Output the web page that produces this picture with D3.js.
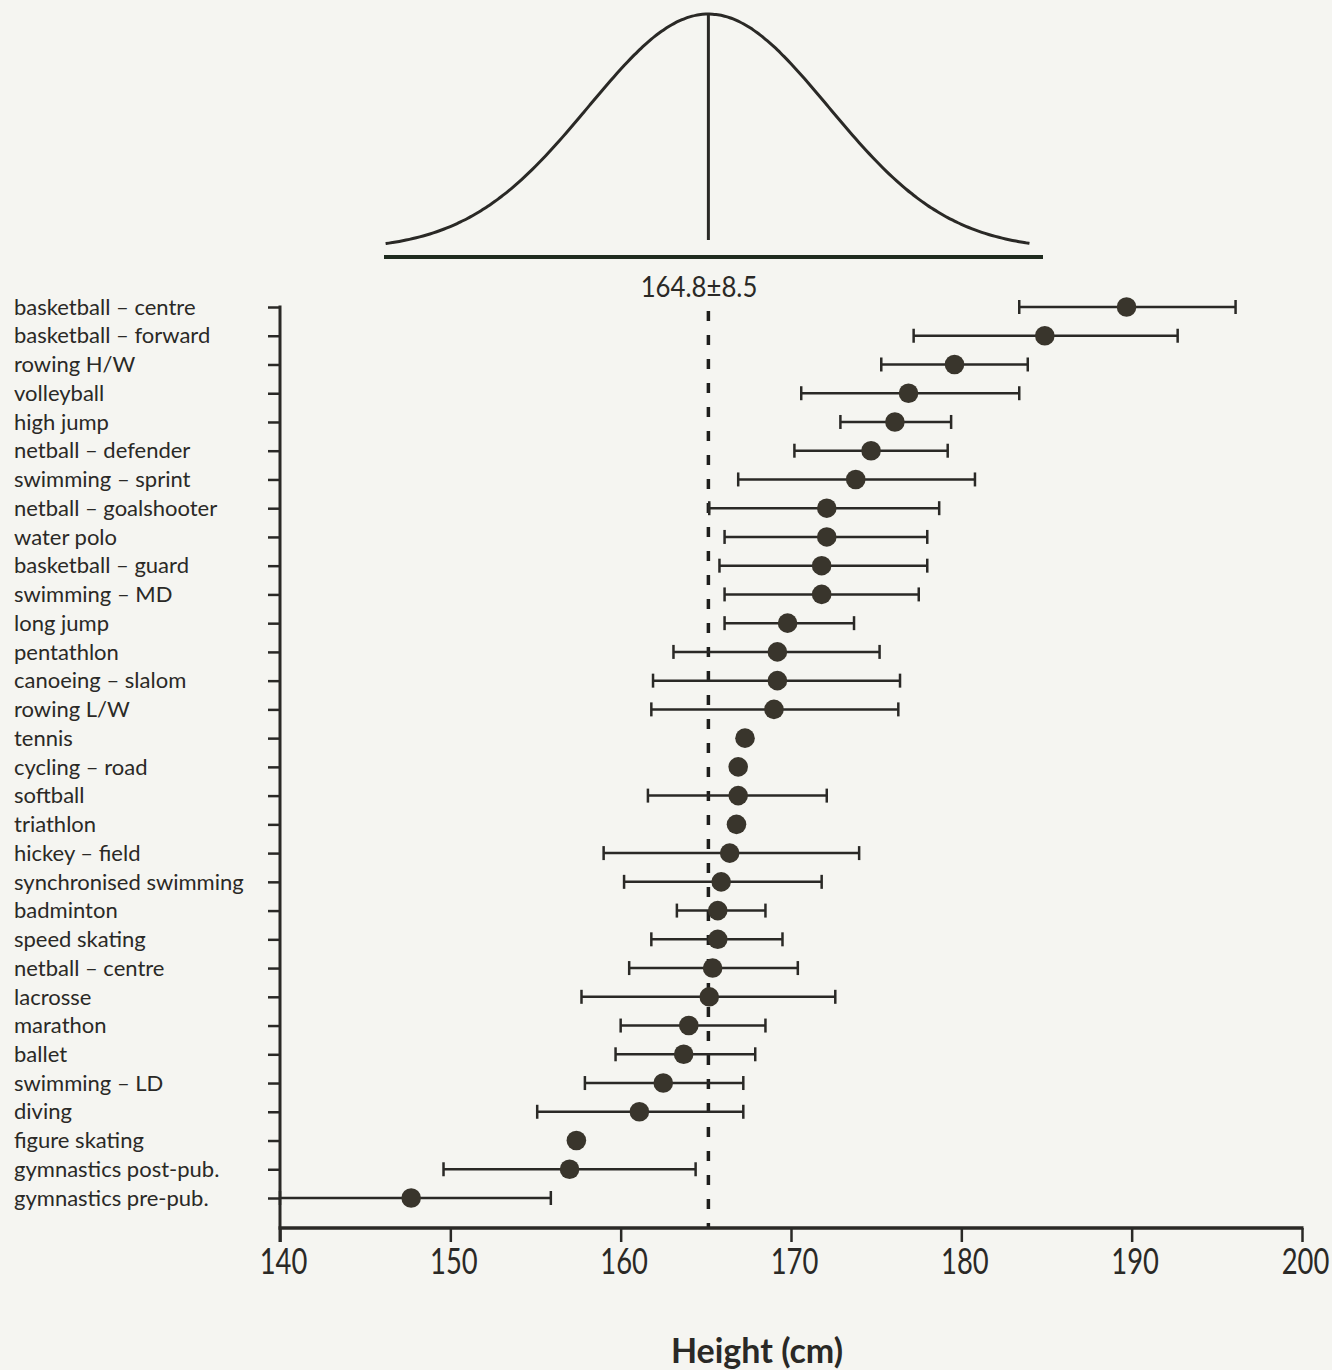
<!DOCTYPE html>
<html>
<head>
<meta charset="utf-8">
<script src="https://cdn.jsdelivr.net/npm/d3@7"></script>
<style>
  html, body { margin: 0; padding: 0; background: #f5f5f1; }
  svg { display: block; }
</style>
</head>
<body>
<div id="chart"></div>
<script>
// Sports, mean height (cm) and the ends of each error bar (null = no bar)
const sports = [
  "basketball – centre", "basketball – forward", "rowing H/W", "volleyball",
  "high jump", "netball – defender", "swimming – sprint", "netball – goalshooter",
  "water polo", "basketball – guard", "swimming – MD", "long jump",
  "pentathlon", "canoeing – slalom", "rowing L/W", "tennis",
  "cycling – road", "softball", "triathlon", "hickey – field",
  "synchronised swimming", "badminton", "speed skating", "netball – centre",
  "lacrosse", "marathon", "ballet", "swimming – LD",
  "diving", "figure skating", "gymnastics post-pub.", "gymnastics pre-pub."
];
const means = [
  189.7, 184.9, 179.6, 176.9, 176.1, 174.7, 173.8, 172.1,
  172.1, 171.8, 171.8, 169.8, 169.2, 169.2, 169.0, 167.3,
  166.9, 166.9, 166.8, 166.4, 165.9, 165.7, 165.7, 165.4,
  165.2, 164.0, 163.7, 162.5, 161.1, 157.4, 157.0, 147.7
];
const lows = [
  183.4, 177.2, 175.3, 170.6, 172.9, 170.2, 166.9, 165.2,
  166.1, 165.8, 166.1, 166.1, 163.1, 161.9, 161.8, null,
  null, 161.6, null, 159.0, 160.2, 163.3, 161.8, 160.5,
  157.7, 160.0, 159.7, 157.9, 155.1, null, 149.6, 140.0
];
const highs = [
  196.1, 192.7, 183.9, 183.4, 179.4, 179.2, 180.8, 178.7,
  178.0, 178.0, 177.5, 173.7, 175.2, 176.4, 176.3, null,
  null, 172.1, null, 174.0, 171.8, 168.5, 169.5, 170.4,
  172.6, 168.5, 167.9, 167.2, 167.2, null, 164.4, 155.9
];
const xTicks = [140, 150, 160, 170, 180, 190, 200];
const popLabel = "164.8±8.5";
const popLine = 165.15;      // where the mean line is drawn
const curveSigma = 7.05;     // spread of the drawn bell
const curveFrom = 146.2, curveTo = 184.1;

const W = 1332, H = 1370;
const ink = "#2a2926";
const dotFill = "#39352c";
const font = "Lato, 'Open Sans', sans-serif";

const svg = d3.select("#chart").append("svg")
  .attr("width", W).attr("height", H);

svg.append("rect").attr("width", W).attr("height", H).attr("fill", "#f5f5f1");

const x = d3.scaleLinear().domain([140, 200]).range([280, 1302]);
const y = d3.scalePoint().domain(sports).range([307, 1198]);
const axisY = 1228;

// ---- bell curve on top
const yc = d3.scaleLinear().domain([0, 1]).range([250, 14]);
const curvePts = d3.range(curveFrom, curveTo + 0.01, 0.2)
  .map(v => [v, Math.exp(-((v - popLine) ** 2) / (2 * curveSigma * curveSigma))]);

svg.append("path")
  .datum(curvePts)
  .attr("fill", "none")
  .attr("stroke", ink)
  .attr("stroke-width", 3)
  .attr("d", d3.line().x(d => x(d[0])).y(d => yc(d[1])).curve(d3.curveBasis));

svg.append("line")
  .attr("x1", x(popLine)).attr("x2", x(popLine))
  .attr("y1", yc(1)).attr("y2", 240)
  .attr("stroke", ink).attr("stroke-width", 3);

svg.append("line")
  .attr("x1", 384).attr("x2", 1043)
  .attr("y1", 257).attr("y2", 257)
  .attr("stroke", "#1f2b1f").attr("stroke-width", 4);

svg.append("text")
  .attr("transform", `translate(${x(164.6)},297) scale(0.92,1)`)
  .attr("text-anchor", "middle")
  .style("font-family", font)
  .style("font-size", "28px")
  .attr("fill", ink)
  .text(popLabel);

// ---- mean dashed line
svg.append("line")
  .attr("x1", x(popLine)).attr("x2", x(popLine))
  .attr("y1", 311).attr("y2", axisY)
  .attr("stroke", "#1e1e1c").attr("stroke-width", 3.5)
  .attr("stroke-dasharray", "10,14");

// ---- axes
const yAxis = svg.append("g")
  .attr("transform", "translate(280,0)")
  .call(d3.axisLeft(y).tickSize(12).tickFormat("").tickSizeOuter(0));
yAxis.select(".domain").remove();
yAxis.selectAll("line").attr("stroke", ink).attr("stroke-width", 2.5);

const xAxis = svg.append("g")
  .attr("transform", `translate(0,${axisY})`)
  .call(d3.axisBottom(x).tickValues(xTicks).tickSize(14).tickPadding(6).tickSizeOuter(0));
xAxis.select(".domain").remove();
xAxis.selectAll("line").attr("stroke", ink).attr("stroke-width", 2.5);
xAxis.selectAll("text")
  .attr("fill", ink)
  .attr("transform", "translate(3,0) scale(0.74,1)")
  .style("font-family", font)
  .style("font-size", "37px");

svg.append("line")
  .attr("x1", x(140)).attr("x2", x(140))
  .attr("y1", y(sports[0]) - 1.5).attr("y2", axisY + 14)
  .attr("stroke", ink).attr("stroke-width", 3);
svg.append("line")
  .attr("x1", x(140) - 1.5).attr("x2", x(200) + 1.5)
  .attr("y1", axisY).attr("y2", axisY)
  .attr("stroke", ink).attr("stroke-width", 3.5);

// ---- category labels
svg.append("g").selectAll("text")
  .data(sports)
  .enter().append("text")
  .attr("x", 14)
  .attr("y", d => y(d))
  .attr("dy", "0.35em")
  .attr("fill", ink)
  .style("font-family", font)
  .style("font-size", "22px")
  .text(d => d);

// ---- error bars and dots
const rows = sports.map((s, i) => ({ s, m: means[i], lo: lows[i], hi: highs[i] }));
const bars = rows.filter(d => d.lo !== null);

const eb = svg.append("g").attr("stroke", ink).attr("stroke-width", 2.5);
eb.selectAll(".bar").data(bars).enter().append("line")
  .attr("x1", d => x(d.lo)).attr("x2", d => x(d.hi))
  .attr("y1", d => y(d.s)).attr("y2", d => y(d.s));
eb.selectAll(".capl").data(bars).enter().append("line")
  .attr("x1", d => x(d.lo)).attr("x2", d => x(d.lo))
  .attr("y1", d => y(d.s) - 7).attr("y2", d => y(d.s) + 7);
eb.selectAll(".caph").data(bars).enter().append("line")
  .attr("x1", d => x(d.hi)).attr("x2", d => x(d.hi))
  .attr("y1", d => y(d.s) - 7).attr("y2", d => y(d.s) + 7);

svg.append("g").selectAll("circle")
  .data(rows)
  .enter().append("circle")
  .attr("cx", d => x(d.m))
  .attr("cy", d => y(d.s))
  .attr("r", 9.8)
  .attr("fill", dotFill);

// ---- axis title
svg.append("text")
  .attr("x", 757).attr("y", 1363)
  .attr("text-anchor", "middle")
  .attr("fill", ink)
  .style("font-family", font)
  .style("font-weight", "bold")
  .style("font-size", "34px")
  .text("Height (cm)");
</script>
</body>
</html>
